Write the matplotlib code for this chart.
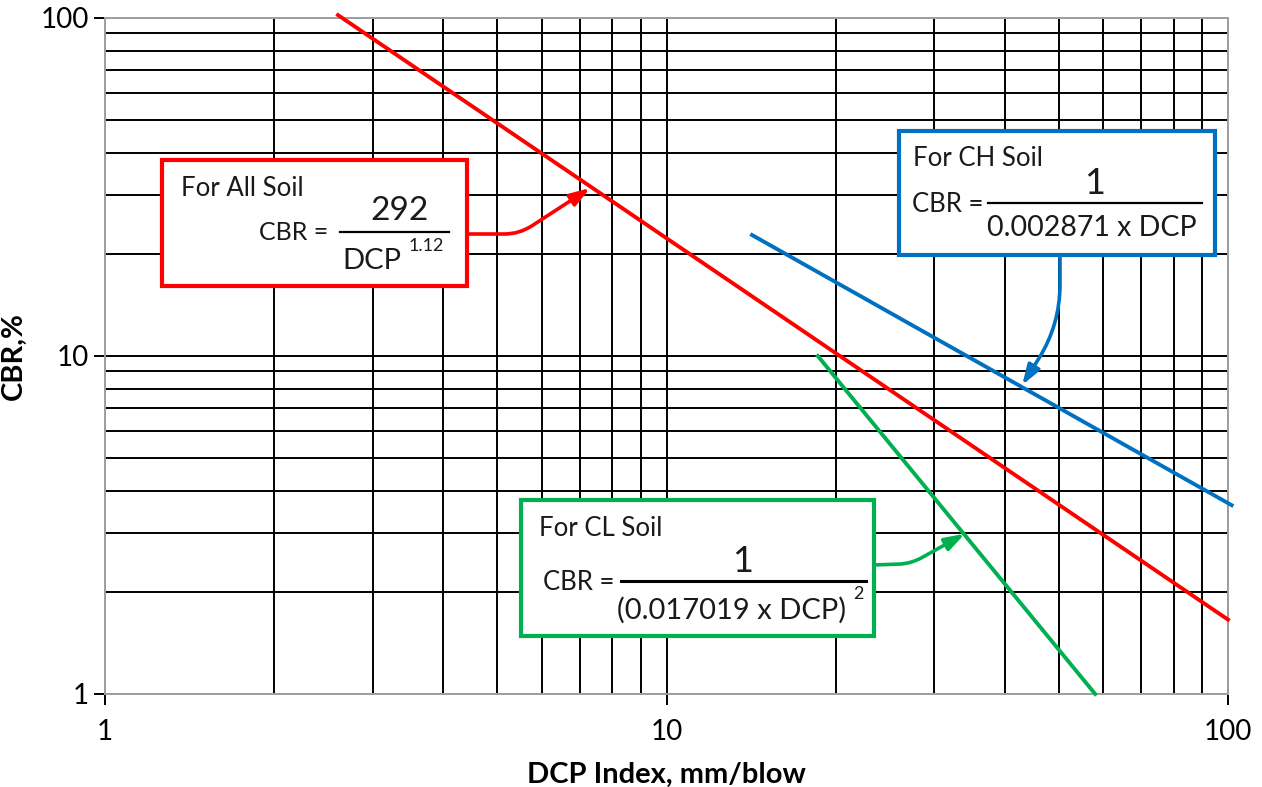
import numpy as np
import matplotlib.pyplot as plt
from matplotlib.patches import Rectangle
from matplotlib.ticker import LogLocator, FixedLocator, NullFormatter

plt.rcParams['font.family'] = ['Lato', 'DejaVu Sans']

# line end points (DCP, CBR)
all_dcp = [2.6, 100]
all_cbr = [102, 1.66]
ch_dcp = [14.2, 101.5]
ch_cbr = [22.8, 3.62]
cl_dcp = [18.6, 58.0]
cl_cbr = [10, 1]

# points where the callout arrows touch the lines
all_tip = (7.31, 31.4)
ch_tip = (43.0, 8.2)
cl_tip = (34.0, 2.98)

ticks = [1, 10, 100]
tick_labels = ['1', '10', '100']

W, H = 1262, 787
fig = plt.figure(figsize=(W / 100, H / 100), dpi=100)


def px(x, y):
    return (x / W, 1 - y / H)


ax = fig.add_axes([105 / W, 1 - 694 / H, (1228 - 105) / W, (694 - 18) / H])
ax.set_xscale('log')
ax.set_yscale('log')
ax.set_xlim(1, 100)
ax.set_ylim(1, 100)

ax.grid(True, which='both', color='black', lw=1.4)
ax.set_axisbelow(True)
ax.xaxis.set_major_locator(FixedLocator(ticks))
ax.yaxis.set_major_locator(FixedLocator(ticks))
ax.set_xticklabels(tick_labels)
ax.set_yticklabels(tick_labels)
ax.xaxis.set_minor_locator(LogLocator(base=10, subs=np.arange(2, 10)))
ax.yaxis.set_minor_locator(LogLocator(base=10, subs=np.arange(2, 10)))
ax.xaxis.set_minor_formatter(NullFormatter())
ax.yaxis.set_minor_formatter(NullFormatter())
ax.tick_params(which='major', length=8, width=1.4, labelsize=20, color='black')
ax.tick_params(axis='x', pad=10)
ax.tick_params(which='minor', length=0)
for s in ax.spines.values():
    s.set_color('#a0a0a0')
    s.set_linewidth(1.4)

ax.set_xlabel('DCP Index, mm/blow', fontsize=21, fontweight='bold', labelpad=12)
ax.set_ylabel('CBR,%', fontsize=21, fontweight='bold', labelpad=10)

red = '#ff0000'
blue = '#0070c0'
green = '#00b050'

ax.plot(all_dcp, all_cbr, color=red, lw=2.8, clip_on=False, zorder=3)
ax.plot(ch_dcp, ch_cbr, color=blue, lw=2.8, clip_on=False, zorder=3)
ax.plot(cl_dcp, cl_cbr, color=green, lw=2.8, clip_on=False, zorder=3)

arrow = '-|>,head_length=0.6,head_width=0.2'
ax.annotate('', xy=all_tip, xycoords='data', xytext=px(466, 234), textcoords='figure fraction',
            arrowprops=dict(arrowstyle=arrow, color=red, lw=2.6, mutation_scale=20,
                            shrinkA=0, shrinkB=0,
                            connectionstyle='angle,angleA=0,angleB=33,rad=15'))
ax.annotate('', xy=ch_tip, xycoords='data', xytext=px(1060, 255), textcoords='figure fraction',
            arrowprops=dict(arrowstyle=arrow, color=blue, lw=2.6, mutation_scale=20,
                            shrinkA=0, shrinkB=0,
                            connectionstyle='angle,angleA=90,angleB=58,rad=40'))
ax.annotate('', xy=cl_tip, xycoords='data', xytext=px(873, 565), textcoords='figure fraction',
            arrowprops=dict(arrowstyle=arrow, color=green, lw=2.6, mutation_scale=20,
                            shrinkA=0, shrinkB=0,
                            connectionstyle='angle,angleA=2,angleB=29,rad=12'))


def box(x0, y0, x1, y1, color):
    x, y = px(x0, y1)
    fig.add_artist(Rectangle((x, y), (x1 - x0) / W, (y1 - y0) / H, transform=fig.transFigure,
                             facecolor='white', edgecolor=color, lw=3, zorder=5))


def bar(x0, x1, y, lw=1.6):
    fig.add_artist(plt.Line2D([x0 / W, x1 / W], [1 - y / H, 1 - y / H], transform=fig.transFigure,
                              color='black', lw=lw, zorder=6))


def txt(x, y, s, size, ha='center'):
    fig.text(*px(x, y), s, fontsize=size, ha=ha, va='center', color='#1a1a1a', zorder=7)


# For All Soil
box(162, 160, 467, 286, red)
txt(181, 189, 'For All Soil', 18.5, ha='left')
txt(328, 233, 'CBR =', 18, ha='right')
txt(400, 211, '292', 24)
bar(340, 449, 232)
txt(372, 261, 'DCP', 21)
txt(426, 246, '1.12', 13)

# For CH Soil
box(899, 131, 1215, 255, blue)
txt(913, 159, 'For CH Soil', 18.5, ha='left')
txt(912, 204, 'CBR =', 18.5, ha='left')
txt(1095, 183, '1', 26)
bar(988, 1202, 203)
txt(1092, 228, '0.002871 x DCP', 20.5)

# For CL Soil
box(521, 500, 874, 636, green)
txt(539, 529, 'For CL Soil', 18.5, ha='left')
txt(543, 583, 'CBR =', 18.5, ha='left')
txt(743, 561, '1', 26)
bar(621, 866, 581, lw=2.2)
txt(732, 610, '(0.017019 x DCP)', 21)
txt(858, 594, '2', 13)

fig.savefig('out.png', dpi=100)
